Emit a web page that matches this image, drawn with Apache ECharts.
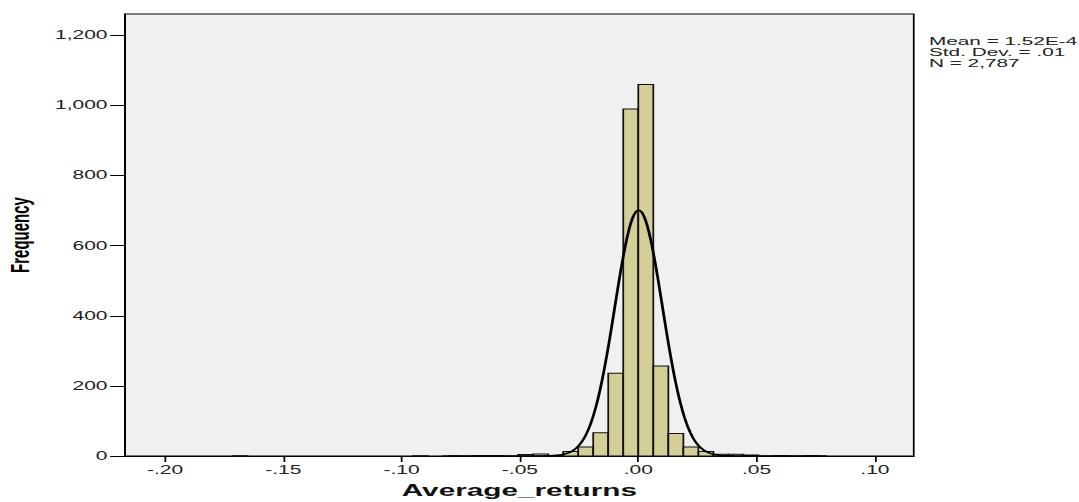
<!DOCTYPE html>
<html>
<head>
<meta charset="utf-8">
<script src="https://cdn.jsdelivr.net/npm/echarts@6/dist/echarts.min.js"></script>
<style>
  html, body { margin: 0; padding: 0; background: #fff; overflow: hidden; }
  #wrap { width: 1079px; height: 502px; overflow: hidden; position: relative; }
  #chart { position: absolute; left: 0; top: 0; height: 502px; transform-origin: 0 0; }
</style>
</head>
<body>
<div id="wrap"><div id="chart"></div></div>
<script>
// ---------- data ----------
const BIN_WIDTH = 0.00635;
// bin index k: the bin spans [k*BIN_WIDTH, (k+1)*BIN_WIDTH]
const binIndex  = [-27, -15, -13, -11, -10, -8, -7, -6, -5, -4, -3, -2, -1, 0, 1, 2, 3, 4, 5, 6, 7, 9, 11];
const binCounts = [  1,   1,   1,   1,   1,  4,  6,  2, 13, 26, 66, 236, 990, 1060, 257, 64, 26, 13, 5, 5, 3, 1, 1];
const MEAN = 1.52e-4;
const SD_FIT = 0.01007;
const N_OBS = 2787;
const xTickValues = [-0.20, -0.15, -0.10, -0.05, 0.00, 0.05, 0.10];
const statsLines = ['Mean = 1.52E-4', 'Std. Dev. = .01', 'N = 2,787'];

// ---------- layout (picture is horizontally stretched) ----------
const SX = 1.75;
const W0 = 1079 / SX;
const chartEl = document.getElementById('chart');
chartEl.style.width = W0 + 'px';
chartEl.style.transform = 'scaleX(' + SX + ')';

const bars = binIndex.map((k, i) => [k * BIN_WIDTH, (k + 1) * BIN_WIDTH, binCounts[i]]);

// fitted normal curve from the stated statistics
const curve = [];
for (let i = 0; i <= 400; i++) {
  const x = -0.08 + i * 0.0004;
  const z = (x - MEAN) / SD_FIT;
  curve.push([x, N_OBS * BIN_WIDTH * Math.exp(-0.5 * z * z) / (SD_FIT * Math.sqrt(2 * Math.PI))]);
}

const fmtX = v => {
  const s = Math.abs(v).toFixed(2).replace(/^0/, '');
  return (v < -1e-9 ? '-' : '') + s;
};
const FONT = '"Liberation Sans", Arial, Helvetica, sans-serif';

const chart = echarts.init(chartEl, null, { renderer: 'svg' });
chart.setOption({
  animation: false,
  backgroundColor: '#ffffff',
  grid: {
    left: 125 / SX, right: W0 - 913 / SX, top: 14, bottom: 46,
    show: true, backgroundColor: '#f0f0f0', borderColor: '#000', borderWidth: 1,
    containLabel: false,
    outerBoundsMode: 'none'
  },
  xAxis: {
    type: 'value',
    min: -0.2169, max: 0.1164,
    name: 'Average_returns', nameLocation: 'middle', nameGap: 26,
    nameTextStyle: { fontFamily: FONT, fontWeight: 'bold', fontSize: 17, color: '#111' },
    axisLine: { show: true, onZero: false, lineStyle: { color: '#000', width: 1 } },
    axisTick: { show: true, length: 6, customValues: xTickValues, lineStyle: { color: '#000', width: 1 } },
    axisLabel: { customValues: xTickValues, formatter: fmtX, margin: 8, fontFamily: FONT, fontSize: 12, color: '#222' },
    splitLine: { show: false }
  },
  yAxis: {
    type: 'value',
    min: 0, max: 1261, interval: 200,
    name: 'Frequency', nameLocation: 'middle', nameGap: 52, nameRotate: 90,
    nameTextStyle: { fontFamily: FONT, fontWeight: 'bold', fontSize: 15, color: '#000' },
    axisLine: { show: true, onZero: false, lineStyle: { color: '#000', width: 1 } },
    axisTick: { show: true, length: 8.5, lineStyle: { color: '#000', width: 1 } },
    axisLabel: {
      margin: 10, fontFamily: FONT, fontSize: 12, color: '#222',
      formatter: v => (v > 1100 && v % 200 !== 0) ? '' : v.toLocaleString('en-US'),
      showMaxLabel: false
    },
    splitLine: { show: false }
  },
  graphic: [{
    type: 'text',
    x: 929 / SX, y: 35.5,
    scaleX: 1.13,
    style: {
      text: statsLines.join('\n'),
      fontFamily: FONT, fontSize: 10.5, lineHeight: 11,
      fill: '#222'
    }
  }],
  series: [{
    type: 'custom',
    data: bars,
    encode: { x: [0, 1], y: 2 },
    renderItem: (params, api) => {
      const p0 = api.coord([api.value(0), api.value(2)]);
      const p1 = api.coord([api.value(1), 0]);
      return {
        type: 'rect',
        shape: { x: p0[0], y: p0[1], width: p1[0] - p0[0], height: p1[1] - p0[1] },
        style: { fill: '#d4cf98', stroke: '#111', lineWidth: 1 }
      };
    },
    z: 2
  }, {
    type: 'line',
    data: curve,
    showSymbol: false,
    smooth: false,
    lineStyle: { color: '#000', width: 1.6 },
    z: 3
  }]
});
</script>
</body>
</html>
